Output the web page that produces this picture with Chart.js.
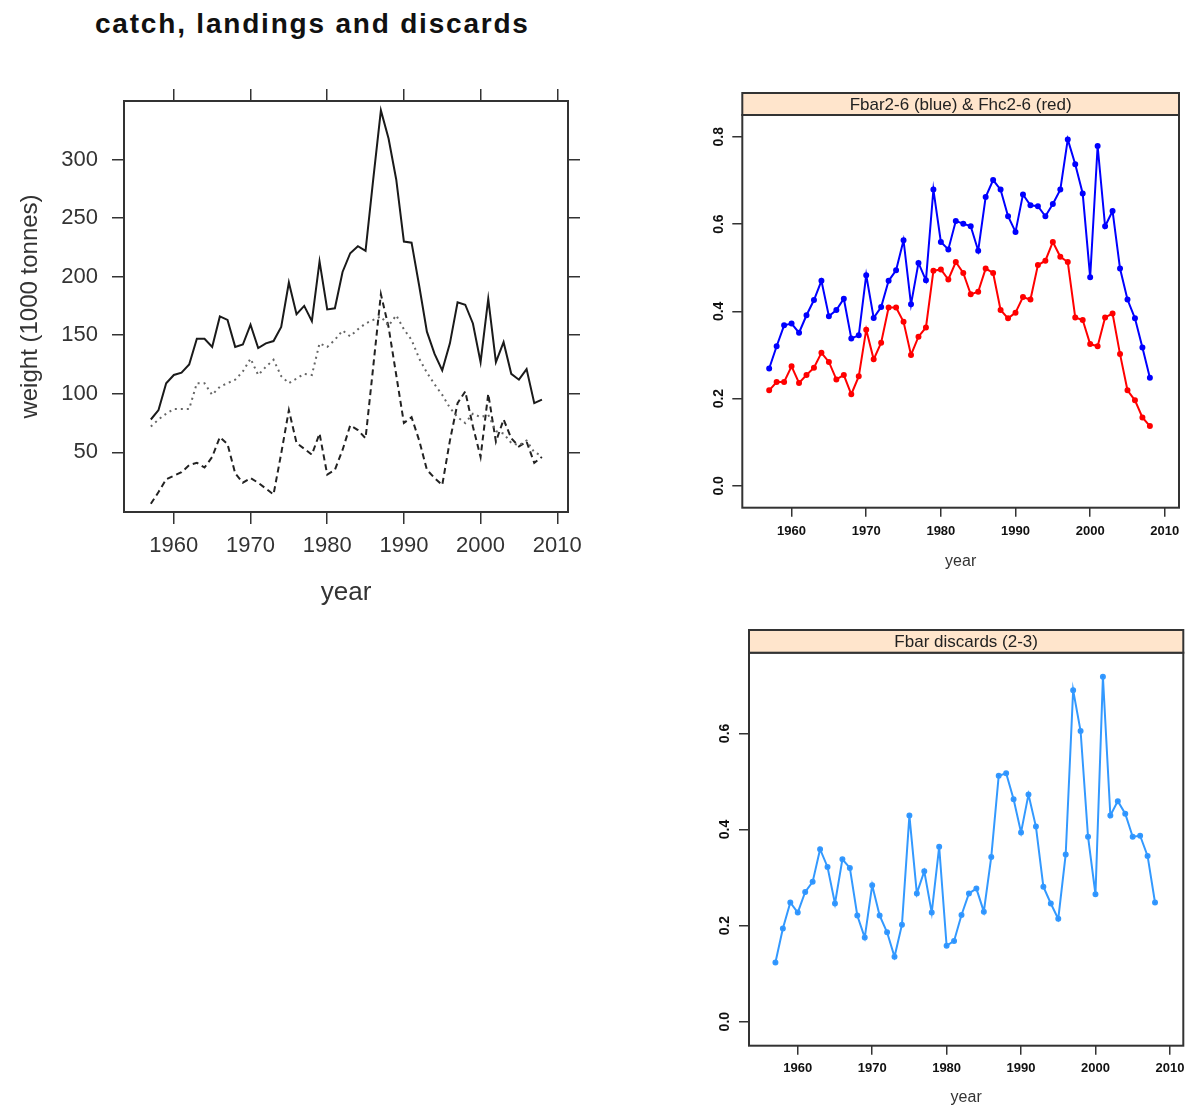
<!DOCTYPE html>
<html>
<head>
<meta charset="utf-8">
<title>catch, landings and discards</title>
<script src="https://cdn.jsdelivr.net/npm/chart.js@4.4.1/dist/chart.umd.min.js"></script>
<style>
  body { margin: 0; background: #fff; width: 1194px; height: 1110px; position: relative; overflow: hidden; }
  .panel { position: absolute; }
  #main-title {
    position: absolute; left: 95px; top: 10px;
    font: bold 28px "Liberation Sans", Arial, sans-serif; line-height: 28px;
    letter-spacing: 1.8px; color: #111; white-space: nowrap;
  }
</style>
</head>
<body>
<div id="main-title">catch, landings and discards</div>
<div class="panel" style="left:0;top:60px;width:600px;height:560px"><canvas id="cld"></canvas></div>
<div class="panel" style="left:690px;top:80px;width:504px;height:500px"><canvas id="fbar"></canvas></div>
<div class="panel" style="left:690px;top:615px;width:504px;height:495px"><canvas id="fdisc"></canvas></div>

<script>
const years = [1957, 1958, 1959, 1960, 1961, 1962, 1963, 1964, 1965, 1966,
               1967, 1968, 1969, 1970, 1971, 1972, 1973, 1974, 1975, 1976,
               1977, 1978, 1979, 1980, 1981, 1982, 1983, 1984, 1985, 1986,
               1987, 1988, 1989, 1990, 1991, 1992, 1993, 1994, 1995, 1996,
               1997, 1998, 1999, 2000, 2001, 2002, 2003, 2004, 2005, 2006,
               2007, 2008];

// weight, 1000 tonnes
const catchW = [78, 86, 109, 116, 118, 125, 147, 147, 140, 166,
                163, 140, 142, 159, 139, 143, 145, 157, 195, 168,
                175, 162, 213, 172, 173, 204, 220, 226, 222, 283,
                342, 318, 283, 230, 229, 192, 153, 134, 120, 143,
                178, 176, 160, 127, 181, 127, 144, 117, 112, 121,
                92, 95];
const landingsW = [72, 78, 83, 87, 87, 87, 109, 109, 99, 106,
                   109, 112, 119, 130, 116, 123, 129, 115, 109, 113,
                   117, 116, 143, 140, 146, 154, 149, 155, 160, 163,
                   166, 158, 167, 155, 146, 130, 118, 108, 99, 88,
                   80, 75, 83, 80, 82, 68, 66, 58, 56, 60,
                   50, 47];
const discardsW = [6, 16, 27, 30, 33, 39, 41, 37, 46, 63,
                   57, 32, 24, 28, 24, 19, 14, 49, 86, 58,
                   53, 48, 66, 31, 35, 52, 73, 69, 62, 123,
                   185, 157, 116, 75, 80, 60, 35, 28, 22, 60,
                   92, 102, 72, 46, 100, 59, 78, 62, 55, 59,
                   41, 46];

const fbar26 = [0.269, 0.320, 0.368, 0.372, 0.351, 0.391, 0.426, 0.470, 0.389, 0.403,
                0.429, 0.338, 0.345, 0.483, 0.385, 0.410, 0.470, 0.494, 0.563, 0.416,
                0.511, 0.471, 0.679, 0.559, 0.542, 0.607, 0.601, 0.595, 0.539, 0.662,
                0.701, 0.679, 0.618, 0.582, 0.668, 0.643, 0.641, 0.618, 0.646, 0.679,
                0.794, 0.737, 0.670, 0.478, 0.779, 0.595, 0.630, 0.498, 0.427, 0.384,
                0.317, 0.248];
const fhc26 = [0.219, 0.238, 0.238, 0.274, 0.236, 0.254, 0.271, 0.305, 0.284, 0.244,
               0.254, 0.210, 0.251, 0.358, 0.290, 0.328, 0.409, 0.409, 0.376, 0.300,
               0.342, 0.363, 0.493, 0.496, 0.473, 0.513, 0.488, 0.439, 0.445, 0.498,
               0.488, 0.403, 0.384, 0.397, 0.433, 0.427, 0.506, 0.516, 0.559, 0.525,
               0.513, 0.386, 0.380, 0.325, 0.320, 0.386, 0.395, 0.302, 0.219, 0.196,
               0.157, 0.137];
const fbarDisc23 = [0.123, 0.194, 0.248, 0.227, 0.270, 0.291, 0.359, 0.322, 0.246, 0.338,
                    0.320, 0.221, 0.175, 0.284, 0.221, 0.186, 0.135, 0.202, 0.429, 0.267,
                    0.313, 0.227, 0.364, 0.158, 0.168, 0.222, 0.267, 0.277, 0.229, 0.343,
                    0.512, 0.517, 0.463, 0.394, 0.473, 0.406, 0.281, 0.246, 0.214, 0.348,
                    0.690, 0.605, 0.385, 0.265, 0.718, 0.429, 0.459, 0.433, 0.385, 0.387,
                    0.345, 0.248];

const yearTicks = [1960, 1970, 1980, 1990, 2000, 2010];
const weightTicks = [50, 100, 150, 200, 250, 300];
const fTicks = [0, 0.2, 0.4, 0.6, 0.8];
const fDiscTicks = [0, 0.2, 0.4, 0.6];

const stripFbar = 'Fbar2-6 (blue) & Fhc2-6 (red)';
const stripDisc = 'Fbar discards (2-3)';

const FONT = '"Liberation Sans", Arial, sans-serif';
Chart.defaults.font.family = FONT;
Chart.defaults.color = '#333';
Chart.defaults.animation = false;

const pts = vals => years.map((yr, i) => ({ x: yr, y: vals[i] }));
const fixTicks = list => scale => { scale.ticks = list.map(v => ({ value: v })); };
const fixWidth = w => scale => { scale.width = w; };
const fixHeight = h => scale => { scale.height = h; };

// box around the plot region, plus the lattice style strip on top
const panelFrame = {
    id: 'panelFrame',
    afterDatasetsDraw(chart, args, opts) {
        const a = chart.chartArea;
        const ctx = chart.ctx;
        ctx.save();
        ctx.strokeStyle = '#333';
        ctx.lineWidth = 2;
        ctx.strokeRect(a.left, a.top, a.right - a.left, a.bottom - a.top);
        if (opts.strip) {
            const h = opts.stripHeight;
            ctx.fillStyle = '#ffe5cc';
            ctx.fillRect(a.left, a.top - h, a.right - a.left, h);
            ctx.strokeRect(a.left, a.top - h, a.right - a.left, h);
            ctx.fillStyle = '#222';
            ctx.font = '17px ' + FONT;
            ctx.textAlign = 'center';
            ctx.textBaseline = 'middle';
            ctx.fillText(opts.strip, (a.left + a.right) / 2, a.top - h / 2 + 1);
        }
        ctx.restore();
    }
};

const tickGrid = len => ({ drawOnChartArea: false, drawTicks: true, tickLength: len, color: '#333', lineWidth: 1.5 });

// catch, landings and discards
new Chart(document.getElementById('cld'), {
    type: 'line',
    data: {
        datasets: [
            { label: 'catch', data: pts(catchW), borderColor: '#1a1a1a', borderWidth: 2 },
            { label: 'landings', data: pts(landingsW), borderColor: '#666', borderWidth: 2, borderDash: [2, 4] },
            { label: 'discards', data: pts(discardsW), borderColor: '#222', borderWidth: 2, borderDash: [6, 4] }
        ]
    },
    options: {
        responsive: true,
        maintainAspectRatio: false,
        layout: { padding: 0 },
        elements: { point: { radius: 0 }, line: { tension: 0 } },
        plugins: { legend: { display: false }, tooltip: { enabled: false }, panelFrame: {} },
        scales: {
            x: {
                type: 'linear', position: 'bottom', min: 1953.5, max: 2011.4,
                afterBuildTicks: fixTicks(yearTicks), afterFit: fixHeight(108),
                grid: tickGrid(12), border: { display: false },
                ticks: { padding: 9, maxRotation: 0, font: { size: 22 }, color: '#333', callback: v => String(v) },
                title: { display: true, text: 'year', font: { size: 26 }, color: '#333', padding: { top: 0, bottom: 12 } }
            },
            x2: {
                type: 'linear', position: 'top', min: 1953.5, max: 2011.4,
                afterBuildTicks: fixTicks(yearTicks), afterFit: fixHeight(41),
                grid: tickGrid(12), border: { display: false },
                ticks: { display: false }
            },
            y: {
                type: 'linear', position: 'left', min: -1, max: 350,
                afterBuildTicks: fixTicks(weightTicks), afterFit: fixWidth(124),
                grid: tickGrid(12), border: { display: false },
                ticks: { padding: 14, font: { size: 22 }, color: '#333', callback: v => String(v) },
                title: { display: true, text: 'weight (1000 tonnes)', font: { size: 24 }, color: '#333', padding: { top: 16, bottom: 0 } }
            },
            y2: {
                type: 'linear', position: 'right', min: -1, max: 350,
                afterBuildTicks: fixTicks(weightTicks), afterFit: fixWidth(32),
                grid: tickGrid(12), border: { display: false },
                ticks: { display: false }
            }
        }
    },
    plugins: [panelFrame]
});

// Fbar2-6 & Fhc2-6
new Chart(document.getElementById('fbar'), {
    type: 'line',
    data: {
        datasets: [
            { label: 'Fbar2-6', data: pts(fbar26), borderColor: '#0000ff', backgroundColor: '#0000ff', borderWidth: 2 },
            { label: 'Fhc2-6', data: pts(fhc26), borderColor: '#ff0000', backgroundColor: '#ff0000', borderWidth: 2 }
        ]
    },
    options: {
        responsive: true,
        maintainAspectRatio: false,
        layout: { padding: { top: 35, right: 15, left: 0, bottom: 0 } },
        elements: { point: { radius: 2, borderWidth: 0 }, line: { tension: 0 } },
        plugins: {
            legend: { display: false }, tooltip: { enabled: false },
            panelFrame: { strip: stripFbar, stripHeight: 22 }
        },
        scales: {
            x: {
                type: 'linear', position: 'bottom', min: 1953.4, max: 2011.9,
                afterBuildTicks: fixTicks(yearTicks), afterFit: fixHeight(72.3),
                grid: tickGrid(9), border: { display: false },
                ticks: { padding: 7, maxRotation: 0, font: { size: 13, weight: 'bold' }, color: '#111', callback: v => String(v) },
                title: { display: true, text: 'year', font: { size: 16 }, color: '#333', padding: { top: 0, bottom: 8.7 } }
            },
            y: {
                type: 'linear', position: 'left', min: -0.05, max: 0.85,
                afterBuildTicks: fixTicks(fTicks), afterFit: fixWidth(52.3),
                grid: tickGrid(10), border: { display: false },
                ticks: { padding: 3.6, minRotation: 90, maxRotation: 90, crossAlign: 'center',
                         font: { size: 14, weight: 'bold' }, color: '#111', callback: v => v.toFixed(1) }
            }
        }
    },
    plugins: [panelFrame]
});

// Fbar discards (2-3)
new Chart(document.getElementById('fdisc'), {
    type: 'line',
    data: {
        datasets: [
            { label: 'Fbar discards', data: pts(fbarDisc23), borderColor: '#3399ff', backgroundColor: '#2b8cff', borderWidth: 2 }
        ]
    },
    options: {
        responsive: true,
        maintainAspectRatio: false,
        layout: { padding: { top: 37.7, right: 10.7, left: 0, bottom: 0 } },
        elements: { point: { radius: 2, borderWidth: 0 }, line: { tension: 0 } },
        plugins: {
            legend: { display: false }, tooltip: { enabled: false },
            panelFrame: { strip: stripDisc, stripHeight: 22.7 }
        },
        scales: {
            x: {
                type: 'linear', position: 'bottom', min: 1953.45, max: 2011.8,
                afterBuildTicks: fixTicks(yearTicks), afterFit: fixHeight(64.3),
                grid: tickGrid(9), border: { display: false },
                ticks: { padding: 5.5, maxRotation: 0, font: { size: 13, weight: 'bold' }, color: '#111', callback: v => String(v) },
                title: { display: true, text: 'year', font: { size: 16 }, color: '#333', padding: { top: 0, bottom: 2.7 } }
            },
            y: {
                type: 'linear', position: 'left', min: -0.05, max: 0.768,
                afterBuildTicks: fixTicks(fDiscTicks), afterFit: fixWidth(59),
                grid: tickGrid(10), border: { display: false },
                ticks: { padding: 4.3, minRotation: 90, maxRotation: 90, crossAlign: 'center',
                         font: { size: 14, weight: 'bold' }, color: '#111', callback: v => v.toFixed(1) }
            }
        }
    },
    plugins: [panelFrame]
});
</script>
</body>
</html>
